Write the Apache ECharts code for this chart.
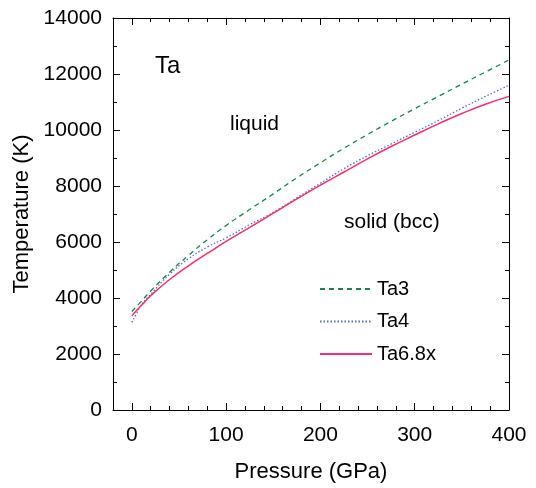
<!DOCTYPE html>
<html>
<head>
<meta charset="utf-8">
<script src="https://cdn.jsdelivr.net/npm/echarts@6/dist/echarts.min.js"></script>
<style>html,body{margin:0;padding:0;background:#fff}#c{width:536px;height:488px}</style>
</head>
<body>
<div id="c"></div>
<script>
const xTicks = [0, 100, 200, 300, 400];
const yTicks = [0, 2000, 4000, 6000, 8000, 10000, 12000, 14000];
const ta3P = [0, 10, 20, 40, 60, 80, 100, 125, 150, 175, 200, 225, 250, 275, 300, 325, 350, 375, 400];
const ta3T = [3520, 3880, 4250, 4920, 5520, 6080, 6590, 7160, 7720, 8290, 8830, 9350, 9840, 10310, 10760, 11200, 11640, 12070, 12500];
const ta4P = [0, 5, 10, 20, 40, 60, 80, 100, 125, 150, 175, 200, 225, 250, 275, 300, 325, 350, 375, 400];
const ta4T = [3130, 3450, 3750, 4130, 4850, 5400, 5820, 6150, 6620, 7060, 7580, 8100, 8620, 9080, 9500, 9920, 10340, 10780, 11200, 11600];
const ta68P = [0, 10, 20, 40, 60, 80, 100, 125, 150, 175, 200, 225, 250, 275, 300, 325, 350, 375, 400];
const ta68T = [3370, 3730, 4080, 4660, 5150, 5590, 6020, 6520, 7030, 7540, 8030, 8500, 8970, 9410, 9820, 10220, 10590, 10920, 11200];

const zip = (a, b) => a.map((v, i) => [v, b[i]]);
const FONT = 'Liberation Sans, Arial, sans-serif';
const black = '#000';

function xAx(pos, major, labels, name) {
  const o = {
    type: 'value', position: pos, min: -20, max: 400,
    splitLine: { show: false },
    axisLine: { show: major, onZero: false, lineStyle: { color: black, width: 1 } },
    axisTick: { show: true, inside: true, length: major ? 7 : 4, lineStyle: { color: black } },
    axisLabel: { show: labels, color: black, fontSize: 21, fontFamily: FONT, margin: 15 }
  };
  if (major) {
    o.axisTick.customValues = xTicks;
    if (labels) o.axisLabel.customValues = xTicks;
  } else {
    o.interval = 20;
  }
  if (name) {
    o.name = name; o.nameLocation = 'middle'; o.nameGap = 51;
    o.nameTextStyle = { color: black, fontSize: 22, fontFamily: FONT };
  }
  return o;
}
function yAx(pos, labels, name) {
  const o = {
    type: 'value', position: pos, min: 0, max: 14000, interval: 2000,
    splitLine: { show: false },
    axisLine: { show: true, onZero: false, lineStyle: { color: black, width: 1 } },
    axisTick: { show: true, inside: true, length: 7, lineStyle: { color: black } },
    minorTick: { show: true, splitNumber: 2, length: 4, lineStyle: { color: black } },
    minorSplitLine: { show: false },
    axisLabel: { show: labels, color: black, fontSize: 21, fontFamily: FONT, margin: 11,
      formatter: v => String(v) }
  };
  if (name) {
    o.name = name; o.nameLocation = 'middle'; o.nameGap = 72;
    o.nameTextStyle = { color: black, fontSize: 22, fontFamily: FONT };
  }
  return o;
}

const chart = echarts.init(document.getElementById('c'), null, { renderer: 'canvas' });
chart.setOption({
  animation: false,
  backgroundColor: '#fff',
  grid: { left: 113, right: 27, top: 18, bottom: 76 },
  xAxis: [
    xAx('bottom', true, true, 'Pressure (GPa)'),
    xAx('bottom', false, false),
    xAx('top', true, false),
    xAx('top', false, false)
  ],
  yAxis: [
    yAx('left', true, 'Temperature (K)'),
    yAx('right', false)
  ],
  legend: {
    orient: 'vertical', left: 314, top: 274, itemGap: 12.5,
    itemWidth: 52, itemHeight: 14,
    itemStyle: { opacity: 0 },
    textStyle: { color: black, fontSize: 20, fontFamily: FONT },
    data: ['Ta3', 'Ta4', 'Ta6.8x']
  },
  series: [
    { name: 'Ta3', type: 'line', smooth: true, symbol: 'none', xAxisIndex: 0, yAxisIndex: 0,
      data: zip(ta3P, ta3T), lineStyle: { color: '#17844a', width: 1.3, type: [5, 4] }, itemStyle: { color: '#17844a' } },
    { name: 'Ta4', type: 'line', smooth: true, symbol: 'none', xAxisIndex: 0, yAxisIndex: 0,
      data: zip(ta4P, ta4T), lineStyle: { color: '#4f6fc4', width: 1.3, type: [1.5, 2] }, itemStyle: { color: '#4f6fc4' } },
    { name: 'Ta6.8x', type: 'line', smooth: true, symbol: 'none', xAxisIndex: 0, yAxisIndex: 0,
      data: zip(ta68P, ta68T), lineStyle: { color: '#f2306f', width: 1.5, type: 'solid' }, itemStyle: { color: '#f2306f' } }
  ],
  graphic: [
    { type: 'text', left: 155, top: 54, style: { text: 'Ta', fontSize: 24, fontFamily: FONT, fill: black } },
    { type: 'text', left: 230, top: 114, style: { text: 'liquid', fontSize: 21, fontFamily: FONT, fill: black } },
    { type: 'text', left: 344, top: 212, style: { text: 'solid (bcc)', fontSize: 21, fontFamily: FONT, fill: black } }
  ]
});
</script>
</body>
</html>
